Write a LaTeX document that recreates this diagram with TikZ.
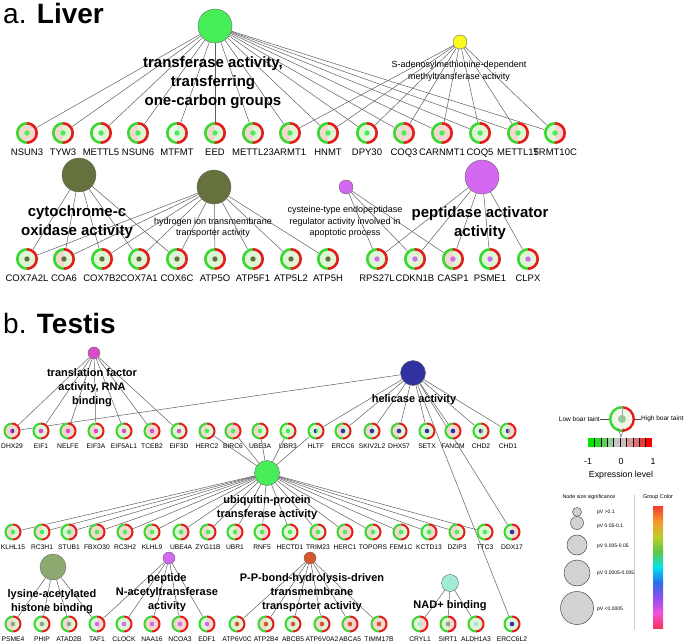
\documentclass[tikz,border=0pt]{standalone}
\usepackage{fontspec}
\setmainfont{Liberation Sans}
\usetikzlibrary{calc}
\pgfdeclarelayer{bg}
\pgfsetlayers{bg,main}
\definecolor{ringgreen}{RGB}{60,215,50}
\definecolor{ringred}{RGB}{228,30,30}
\definecolor{fP}{RGB}{242,216,206}
\definecolor{fG}{RGB}{222,245,214}
\definecolor{fW}{RGB}{238,247,234}
\definecolor{cGreen}{RGB}{72,238,88}
\definecolor{cYellow}{RGB}{255,250,30}
\definecolor{cOlive}{RGB}{102,114,62}
\definecolor{cViolet}{RGB}{212,104,240}
\definecolor{cMagenta}{RGB}{216,76,200}
\definecolor{cNavy}{RGB}{48,50,160}
\definecolor{cSage}{RGB}{140,170,112}
\definecolor{dSage}{RGB}{150,165,125}
\definecolor{cOrange}{RGB}{218,86,44}
\definecolor{cAqua}{RGB}{160,236,214}
\definecolor{dAqua}{RGB}{175,225,215}
\definecolor{dGrey}{RGB}{150,150,150}
\definecolor{sizeGrey}{RGB}{210,210,210}
\definecolor{edgeGrey}{RGB}{95,95,95}
\definecolor{e1}{RGB}{0,230,0}
\definecolor{e2}{RGB}{40,215,40}
\definecolor{e3}{RGB}{95,205,95}
\definecolor{e4}{RGB}{150,205,150}
\definecolor{e5}{RGB}{195,195,195}
\definecolor{e6}{RGB}{200,188,188}
\definecolor{e7}{RGB}{215,150,150}
\definecolor{e8}{RGB}{225,110,110}
\definecolor{e9}{RGB}{235,60,60}
\definecolor{e10}{RGB}{250,0,0}
\definecolor{rb0}{RGB}{240,60,50}
\definecolor{rb1}{RGB}{250,150,40}
\definecolor{rb2}{RGB}{190,205,40}
\definecolor{rb3}{RGB}{90,200,70}
\definecolor{rb4}{RGB}{0,228,240}
\definecolor{rb5}{RGB}{40,110,235}
\definecolor{rb6}{RGB}{140,80,240}
\definecolor{rb7}{RGB}{245,80,220}
\definecolor{rb8}{RGB}{245,50,90}
\tikzset{
 genebase/.style={circle, inner sep=0pt, minimum size=\gd pt},
 ringG/.style={draw=ringgreen, line width=\rw},
 ringR/.style={draw=ringred, line width=\rw},
 glab/.style={inner sep=0pt, anchor=base, font=\glfont},
 termc/.style={circle, draw=black!60, line width=0.4pt, inner sep=0pt},
 blab/.style={align=center, inner sep=0pt, font=\blfont},
 slab/.style={align=center, inner sep=0pt, font=\fontsize{9}{11.5}\selectfont},
 lnk/.style={draw=edgeGrey, line width=0.5pt},
 sizec/.style={circle, draw=black!70, fill=sizeGrey, line width=0.5pt, inner sep=0pt},
 tinylab/.style={inner sep=0pt, font=\fontsize{5}{6}\selectfont},
}
\newcommand\genecore[7]{%
  \node[genebase] (#1) at (#2,#3) {};
  \fill[#4] (#1.center) ++(0,\gr) arc[start angle=90,end angle=270,radius=\gr] -- cycle;
  \fill[#5] (#1.center) ++(0,-\gr) arc[start angle=-90,end angle=90,radius=\gr] -- cycle;
  \draw[ringG] (#1.center) ++(0,\gri) arc[start angle=90,end angle=270,radius=\gri];
  \draw[ringR] (#1.center) ++(0,-\gri) arc[start angle=-90,end angle=90,radius=\gri];
  \fill[#6] (#1.center) ++(0,\dr) arc[start angle=90,end angle=270,radius=\dr] -- cycle;
  \fill[#7] (#1.center) ++(0,-\dr) arc[start angle=-90,end angle=90,radius=\dr] -- cycle;
}
\newcommand\gene[7]{% name x y left right dot label
  \genecore{#1}{#2}{#3}{#4}{#5}{#6}{#6}%
  \node[glab] (#1-l) at ($(#1.center)+(0,-\lb)$) {#7};
}
\newcommand\genetwo[8]{% name x y left right dotL dotR label
  \genecore{#1}{#2}{#3}{#4}{#5}{#6}{#7}%
  \node[glab] (#1-l) at ($(#1.center)+(0,-\lb)$) {#8};
}
\begin{document}
\begin{tikzpicture}[x=1pt,y=1pt]
\useasboundingbox (0,0) rectangle (685,-644);
% ---------------- LIVER ----------------
\node[anchor=base west, inner sep=0pt] (titleA) at (3,-24) {\fontsize{28}{30}\selectfont a. \textbf{Liver}};
\def\gd{22}\def\gr{11}\def\gri{9.7}\def\rw{2.6pt}\def\dr{2.7}\def\lb{22.4}
\def\glfont{\fontsize{9.5}{11}\selectfont}
\def\blfont{\fontsize{15}{19}\selectfont\bfseries}
\node[termc, fill=cGreen, minimum size=34pt] (t1) at (215,-26) {};
\node[termc, fill=cYellow, minimum size=14pt] (t2) at (460,-42) {};
\node[termc, fill=cOlive, minimum size=34pt] (t3) at (79,-175) {};
\node[termc, fill=cOlive, minimum size=34pt] (t4) at (214,-187) {};
\node[termc, fill=cViolet, minimum size=14pt] (t5) at (346,-187) {};
\node[termc, fill=cViolet, minimum size=34pt] (t6) at (482,-177) {};
\gene{NSUN3}{27}{-133}{fP}{fP}{cGreen}{NSUN3}
\gene{TYW3}{63}{-133}{fP}{fG}{cGreen}{TYW3}
\gene{METTL5}{101}{-133}{fW}{fG}{cGreen}{METTL5}
\gene{NSUN6}{138}{-133}{fP}{fG}{cGreen}{NSUN6}
\gene{MTFMT}{177}{-133}{fW}{fG}{cGreen}{MTFMT}
\gene{EED}{215}{-133}{fP}{fG}{cGreen}{EED}
\gene{METTL23}{253}{-133}{fP}{fG}{cGreen}{METTL23}
\gene{ARMT1}{290}{-133}{fP}{fG}{cGreen}{ARMT1}
\gene{HNMT}{328}{-133}{fP}{fG}{cGreen}{HNMT}
\gene{DPY30}{367}{-133}{fG}{fW}{cGreen}{DPY30}
\gene{COQ3}{404}{-133}{fP}{fP}{cGreen}{COQ3}
\gene{CARNMT1}{442}{-133}{fP}{fP}{cGreen}{CARNMT1}
\gene{COQ5}{480}{-133}{fG}{fG}{cGreen}{COQ5}
\gene{METTL15}{518}{-133}{fP}{fG}{cGreen}{METTL15}
\gene{TRMT10C}{555}{-133}{fG}{fP}{cGreen}{TRMT10C}
\gene{COX7A2L}{27}{-259}{fG}{fG}{cOlive}{COX7A2L}
\gene{COA6}{64}{-259}{fP}{fG}{cOlive}{COA6}
\gene{COX7B2}{102}{-259}{fG}{fG}{cOlive}{COX7B2}
\gene{COX7A1}{139}{-259}{fG}{fG}{cOlive}{COX7A1}
\gene{COX6C}{177}{-259}{fG}{fG}{cOlive}{COX6C}
\gene{ATP5O}{215}{-259}{fG}{fG}{cOlive}{ATP5O}
\gene{ATP5F1}{253}{-259}{fG}{fG}{cOlive}{ATP5F1}
\gene{ATP5L2}{291}{-259}{fG}{fG}{cOlive}{ATP5L2}
\gene{ATP5H}{328}{-259}{fG}{fG}{cOlive}{ATP5H}
\gene{RPS27L}{377}{-259}{fG}{fG}{cViolet}{RPS27L}
\gene{CDKN1B}{415}{-259}{fG}{fG}{cViolet}{CDKN1B}
\gene{CASP1}{453}{-259}{fP}{fG}{cViolet}{CASP1}
\gene{PSME1}{490}{-259}{fG}{fG}{cViolet}{PSME1}
\gene{CLPX}{528}{-259}{fG}{fG}{cViolet}{CLPX}
\node[blab] (t1-l) at (213,-83) {transferase activity,\\transferring\\one-carbon groups};
\node[slab] (t2-l) at (459,-71) {S-adenosylmethionine-dependent\\methyltransferase activity};
\node[blab] (t3-l) at (77,-222.5) {cytochrome-c\\oxidase activity};
\node[slab] (t4-l) at (213,-227.5) {hydrogen ion transmembrane\\transporter activity};
\node[slab] (t5-l) at (345,-222) {cysteine-type endopeptidase\\regulator activity involved in\\apoptotic process};
\node[blab] (t6-l) at (480,-223.5) {peptidase activator\\activity};
% ---------------- TESTIS ----------------
\node[anchor=base west, inner sep=0pt] (titleB) at (3,-333) {\fontsize{28}{30}\selectfont b. \textbf{Testis}};
\def\gd{17}\def\gr{8.5}\def\gri{7.5}\def\rw{2pt}\def\dr{2.3}\def\lb{17}
\def\glfont{\fontsize{6.7}{8}\selectfont}
\def\blfont{\fontsize{11}{14.3}\selectfont\bfseries}
\node[termc, fill=cMagenta, minimum size=12pt] (b1) at (94,-353) {};
\node[termc, fill=cNavy, minimum size=25pt] (b2) at (413,-373) {};
\node[termc, fill=cGreen, minimum size=25pt] (b3) at (267,-473) {};
\node[termc, fill=cSage, minimum size=26pt] (b4) at (53,-567) {};
\node[termc, fill=cViolet, minimum size=12pt] (b5) at (169,-558) {};
\node[termc, fill=cOrange, minimum size=12pt] (b6) at (310,-558) {};
\node[termc, fill=cAqua, minimum size=17pt] (b7) at (450,-583) {};
\genetwo{DHX29}{12}{-431}{fP}{fP}{cMagenta}{cNavy}{DHX29}
\gene{EIF1}{41}{-431}{fG}{fG}{cMagenta}{EIF1}
\gene{NELFE}{68}{-431}{fP}{fP}{cMagenta}{NELFE}
\gene{EIF3A}{96}{-431}{fP}{fG}{cMagenta}{EIF3A}
\gene{EIF5AL1}{124}{-431}{fG}{fG}{cMagenta}{EIF5AL1}
\gene{TCEB2}{152}{-431}{fP}{fP}{cMagenta}{TCEB2}
\gene{EIF3D}{179}{-431}{fG}{fG}{cMagenta}{EIF3D}
\gene{HERC2}{207}{-431}{fP}{fG}{cGreen}{HERC2}
\gene{BIRC6}{233}{-431}{fP}{fP}{cGreen}{BIRC6}
\gene{UBE3A}{260}{-431}{fP}{fG}{cGreen}{UBE3A}
\gene{UBR3}{288}{-431}{fG}{fG}{cGreen}{UBR3}
\genetwo{HLTF}{316}{-431}{fG}{fG}{cNavy}{cGreen}{HLTF}
\gene{ERCC6}{343}{-431}{fP}{fG}{cNavy}{ERCC6}
\gene{SKIV2L2}{372}{-431}{fP}{fG}{cNavy}{SKIV2L2}
\gene{DHX57}{399}{-431}{fP}{fG}{cNavy}{DHX57}
\gene{SETX}{427}{-431}{fG}{fG}{cNavy}{SETX}
\gene{FANCM}{453}{-431}{fP}{fP}{cNavy}{FANCM}
\genetwo{CHD2}{481}{-431}{fG}{fG}{cNavy}{dGrey}{CHD2}
\genetwo{CHD1}{508}{-431}{fG}{fP}{cNavy}{dGrey}{CHD1}
\gene{KLHL15}{13}{-532}{fP}{fG}{cGreen}{KLHL15}
\gene{RC3H1}{42}{-532}{fP}{fG}{cGreen}{RC3H1}
\gene{STUB1}{69}{-532}{fG}{fP}{cGreen}{STUB1}
\gene{FBXO30}{97}{-532}{fP}{fP}{cGreen}{FBXO30}
\gene{RC3H2}{125}{-532}{fP}{fP}{cGreen}{RC3H2}
\gene{KLHL9}{152}{-532}{fP}{fG}{cGreen}{KLHL9}
\gene{UBE4A}{181}{-532}{fG}{fP}{cGreen}{UBE4A}
\gene{ZYG11B}{208}{-532}{fP}{fG}{cGreen}{ZYG11B}
\gene{UBR1}{235}{-532}{fG}{fP}{cGreen}{UBR1}
\gene{RNF5}{262}{-532}{fG}{fP}{cGreen}{RNF5}
\gene{HECTD1}{290}{-532}{fG}{fG}{cGreen}{HECTD1}
\gene{TRIM23}{318}{-532}{fP}{fG}{cGreen}{TRIM23}
\gene{HERC1}{345}{-532}{fP}{fP}{cGreen}{HERC1}
\gene{TOPORS}{373}{-532}{fP}{fG}{cGreen}{TOPORS}
\gene{FEM1C}{401}{-532}{fP}{fG}{cGreen}{FEM1C}
\gene{KCTD13}{429}{-532}{fG}{fP}{cGreen}{KCTD13}
\gene{DZIP3}{457}{-532}{fP}{fG}{cGreen}{DZIP3}
\gene{TTC3}{485}{-532}{fG}{fG}{cGreen}{TTC3}
\gene{DDX17}{512}{-532}{fG}{fP}{cNavy}{DDX17}
\gene{PSME4}{13}{-624}{fP}{fG}{dSage}{PSME4}
\gene{PHIP}{42}{-624}{fG}{fG}{dSage}{PHIP}
\gene{ATAD2B}{69}{-624}{fP}{fG}{dSage}{ATAD2B}
\gene{TAF1}{97}{-624}{fG}{fP}{cViolet}{TAF1}
\gene{CLOCK}{124}{-624}{fG}{fG}{cViolet}{CLOCK}
\gene{NAA16}{152}{-624}{fP}{fP}{cViolet}{NAA16}
\gene{NCOA3}{180}{-624}{fP}{fP}{cViolet}{NCOA3}
\gene{EDF1}{207}{-624}{fG}{fP}{cViolet}{EDF1}
\gene{ATP6V0C}{237}{-624}{fG}{fG}{cOrange}{ATP6V0C}
\gene{ATP2B4}{266}{-624}{fP}{fG}{cOrange}{ATP2B4}
\gene{ABCB5}{293}{-624}{fG}{fG}{cOrange}{ABCB5}
\gene{ATP6V0A2}{322}{-624}{fP}{fG}{cOrange}{ATP6V0A2}
\gene{ABCA5}{350}{-624}{fP}{fP}{cOrange}{ABCA5}
\gene{TIMM17B}{379}{-624}{fP}{fP}{cOrange}{TIMM17B}
\gene{CRYL1}{420}{-624}{fG}{fP}{dAqua}{CRYL1}
\gene{SIRT1}{448}{-624}{fG}{fP}{dSage}{SIRT1}
\gene{ALDH1A3}{476}{-624}{fG}{fG}{dAqua}{ALDH1A3}
\gene{ERCC6L2}{512}{-624}{fG}{fG}{cNavy}{ERCC6L2}
\node[blab] (b1-l) at (92,-387.5) {translation factor\\activity, RNA\\binding};
\node[blab] (b2-l) at (414,-400) {helicase activity};
\node[blab] (b3-l) at (267,-507.5) {ubiquitin-protein\\transferase activity};
\node[blab] (b4-l) at (52,-601.5) {lysine-acetylated\\histone binding};
\node[blab] (b5-l) at (167,-592.5) {peptide\\N-acetyltransferase\\activity};
\node[blab] (b6-l) at (312,-592.5) {P-P-bond-hydrolysis-driven\\transmembrane\\transporter activity};
\node[blab] (b7-l) at (450,-606) {NAD+ binding};
% ---------------- EDGES ----------------
\begin{pgfonlayer}{bg}
\foreach \g in {NSUN3,TYW3,METTL5,NSUN6,MTFMT,EED,METTL23,ARMT1,HNMT,DPY30,COQ3,CARNMT1,COQ5,METTL15,TRMT10C} {\draw[lnk] (t1) -- (\g);}
\foreach \g in {ARMT1,HNMT,DPY30,COQ3,CARNMT1,COQ5,METTL15,TRMT10C} {\draw[lnk] (t2) -- (\g);}
\foreach \g in {COX7A2L,COA6,COX7B2,COX7A1,COX6C} {\draw[lnk] (t3) -- (\g);}
\foreach \g in {COX7A2L,COA6,COX7B2,COX7A1,COX6C,ATP5O,ATP5F1,ATP5L2,ATP5H} {\draw[lnk] (t4) -- (\g);}
\foreach \g in {RPS27L,CDKN1B,CASP1} {\draw[lnk] (t5) -- (\g);}
\foreach \g in {RPS27L,CDKN1B,CASP1,PSME1,CLPX} {\draw[lnk] (t6) -- (\g);}
\foreach \g in {DHX29,EIF1,NELFE,EIF3A,EIF5AL1,TCEB2,EIF3D} {\draw[lnk] (b1) -- (\g);}
\foreach \g in {DHX29,HLTF,ERCC6,SKIV2L2,DHX57,SETX,FANCM,CHD2,CHD1,DDX17,ERCC6L2} {\draw[lnk] (b2) -- (\g);}
\foreach \g in {HERC2,BIRC6,UBE3A,UBR3,HLTF,KLHL15,RC3H1,STUB1,FBXO30,RC3H2,KLHL9,UBE4A,ZYG11B,UBR1,RNF5,HECTD1,TRIM23,HERC1,TOPORS,FEM1C,KCTD13,DZIP3,TTC3} {\draw[lnk] (b3) -- (\g);}
\foreach \g in {PSME4,PHIP,ATAD2B,TAF1} {\draw[lnk] (b4) -- (\g);}
\foreach \g in {TAF1,CLOCK,NAA16,NCOA3,EDF1} {\draw[lnk] (b5) -- (\g);}
\foreach \g in {ATP6V0C,ATP2B4,ABCB5,ATP6V0A2,ABCA5,TIMM17B} {\draw[lnk] (b6) -- (\g);}
\foreach \g in {CRYL1,SIRT1,ALDH1A3} {\draw[lnk] (b7) -- (\g);}
\end{pgfonlayer}
% ---------------- LEGEND ----------------
\def\gd{26}\def\gr{13}\def\gri{11.8}\def\rw{2.4pt}\def\dr{4}
\genecore{lg}{622}{-419}{fW}{fW}{e4}{e4}
\draw[gray!70, line width=0.4pt] (lg.north) -- (lg.center);
\coordinate (vtip) at (621,-437);
\draw[black!70, line width=0.4pt] (618,-428) -- (vtip) -- (624,-428);
\node[anchor=east, inner sep=0pt, font=\fontsize{6.5}{8}\selectfont] (lowt) at (600,-419) {Low boar taint};
\node[anchor=west, inner sep=0pt, font=\fontsize{6.5}{8}\selectfont] (hight) at (641,-419) {High boar taint};
\draw[black!70, line width=0.4pt] (lowt.east) -- (lg.west);
\draw[black!70, line width=0.4pt] (lg.east) -- (hight.west);
\foreach \c [count=\i from 0] in {e1,e2,e3,e4,e5,e6,e7,e8,e9,e10} {\fill[\c] ({588+6.4*\i},-438) rectangle ({588+6.4*(\i+1)},-447);}
\foreach \i in {1,...,9} {\draw[black, line width=0.4pt] ({588+6.4*\i},-438) -- ({588+6.4*\i},-447);}
\node[inner sep=0pt, font=\fontsize{8.8}{10}\selectfont] (m1) at (588,-461) {-1};
\node[inner sep=0pt, font=\fontsize{8.8}{10}\selectfont] (z0) at (621,-461) {0};
\node[inner sep=0pt, font=\fontsize{8.8}{10}\selectfont] (p1) at (653,-461) {1};
\node[inner sep=0pt, font=\fontsize{8.8}{10}\selectfont] (exl) at (621,-475) {Expression level};
\node[tinylab, font=\fontsize{5.3}{6}\selectfont] (nss) at (589,-497) {Node size significance};
\node[tinylab, font=\fontsize{5.5}{6}\selectfont] (gcl) at (658,-497) {Group Color};
\draw[gray!40, line width=0.6pt] (634,-495) -- (634,-630);
\node[sizec, minimum size=9pt] (s1) at (577,-512) {};
\node[sizec, minimum size=13pt] (s2) at (577,-523) {};
\node[sizec, minimum size=20pt] (s3) at (577,-545) {};
\node[sizec, minimum size=26pt] (s4) at (577,-573) {};
\node[sizec, minimum size=33pt] (s5) at (577,-608) {};
\node[tinylab, anchor=west] (p1l) at (597,-512) {pV >0.1};
\node[tinylab, anchor=west] (p2l) at (597,-526) {pV 0.05-0.1};
\node[tinylab, anchor=west] (p3l) at (597,-546) {pV 0.005-0.05};
\node[tinylab, anchor=west] (p4l) at (597,-573) {pV 0.0005-0.005};
\node[tinylab, anchor=west] (p5l) at (597,-609) {pV <0.0005};
\foreach \a/\b [count=\i from 0] in {rb0/rb1,rb1/rb2,rb2/rb3,rb3/rb4,rb4/rb5,rb5/rb6,rb6/rb7,rb7/rb8} {\shade[top color=\a, bottom color=\b] (653,{-506-15.25*\i}) rectangle (663,{-506-15.25*(\i+1)-0.3});}
\end{tikzpicture}
\end{document}
